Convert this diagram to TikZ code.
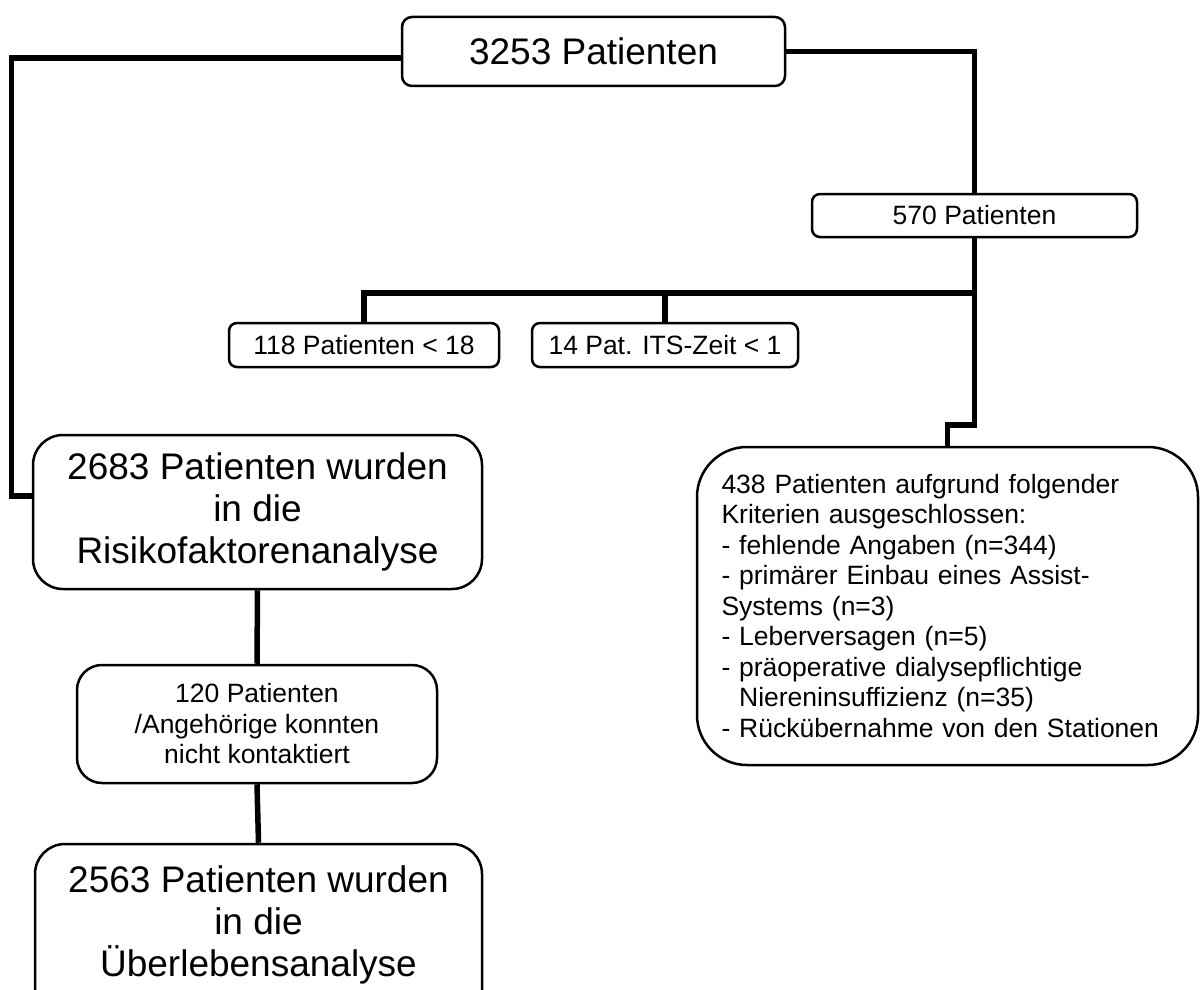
\documentclass[tikz,border=0pt]{standalone}
\usepackage{fontspec}
\setmainfont{Liberation Sans}

\begin{document}
\begin{tikzpicture}[x=1pt, y=-1pt,
    box/.style={draw, line width=2.5pt, rounded corners=#1, inner sep=0pt, align=center},
    box/.default=10pt,
    link/.style={line width=5.5pt},
    bigtext/.style={font=\fontsize{37}{42}\selectfont},
    smalltext/.style={font=\fontsize{26.5}{30.5}\selectfont}]
    \clip (0,0) rectangle (1200,990);

    \node[box, bigtext, minimum width=383pt, minimum height=69pt] (total) at (593.5,51.5)
          {3253 Patienten};
    \node[box=8pt, smalltext, minimum width=325pt, minimum height=43pt] (sub) at (974.5,215.5)
          {570 Patienten};
    \node[box=8pt, smalltext, minimum width=270pt, minimum height=44pt] (age) at (364,345)
          {118 Patienten < 18};
    \node[box=8pt, smalltext, minimum width=266pt, minimum height=44pt] (its) at (665,345)
          {14 Pat. ITS-Zeit < 1};
    \node[box=30pt, bigtext, minimum width=449pt, minimum height=154pt] (risk) at (257.5,512)
          {2683 Patienten wurden\\ in die\\ Risikofaktorenanalyse};
    \node[box=25pt, smalltext, minimum width=360pt, minimum height=118pt] (nocontact) at (257,724)
          {120 Patienten\\ /Angehörige konnten\\ nicht kontaktiert};
    \node[box=30pt, bigtext, minimum width=447pt, minimum height=244pt, text depth=90pt]
          (surv) at (258.5,966)
          {2563 Patienten wurden\\ in die\\ Überlebensanalyse};
    \node[box=50pt, smalltext, align=left, text width=452pt, inner xsep=24.5pt,
          minimum width=501pt, minimum height=318pt] (excl) at (947.5,606)
          {438 Patienten aufgrund folgender\\
           Kriterien ausgeschlossen:\\
           - fehlende Angaben (n=344)\\
           - primärer Einbau eines Assist-\\
           Systems (n=3)\\
           - Leberversagen (n=5)\\
           - präoperative dialysepflichtige\\
           \phantom{- }Niereninsuffizienz (n=35)\\
           - Rückübernahme von den Stationen};

    \coordinate (fork) at (975,293);
    \draw[link] ([yshift=-6.5pt]total.west) -| ([xshift=-20.5pt,yshift=16pt]risk.west)
          -- ([yshift=16pt]risk.west);
    \draw[link] (total.east) -| (sub.north);
    \draw[link] (sub.south) |- ([yshift=21pt]excl.north) -- (excl.north);
    \draw[link] (fork) -| (age.north);
    \draw[link] (its.north) -- (its.north |- fork);
    \draw[link] (risk.south) -- (nocontact.north);
    \draw[link] (nocontact.south) -- (surv.north);
\end{tikzpicture}
\end{document}
